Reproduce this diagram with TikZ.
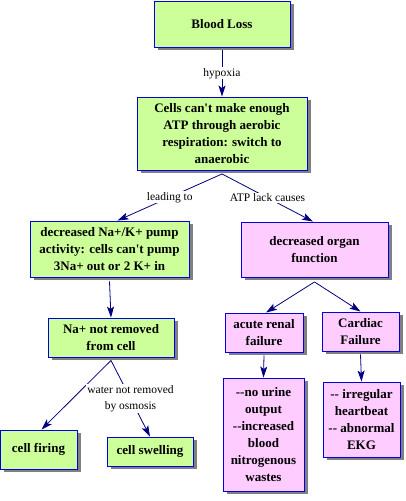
\documentclass[tikz,border=0pt]{standalone}
\usepackage{fontspec}
\setmainfont{Liberation Serif}[Ligatures=TeXOff, BoldFont={Liberation Serif Bold}]
\usetikzlibrary{arrows.meta,shadows}
\definecolor{boxgreen}{HTML}{CCFF99}
\definecolor{boxpink}{HTML}{FFCCFF}
\definecolor{boxline}{HTML}{0000E0}
\definecolor{connline}{HTML}{000080}
\definecolor{shadowgray}{HTML}{808080}
\tikzset{
  cbox/.style={draw=boxline, line width=0.9pt, inner sep=0pt, align=center,
    font=\fontsize{13}{17}\selectfont\bfseries,
    drop shadow={shadow xshift=3.5pt, shadow yshift=-3pt, fill=shadowgray, opacity=1}},
  gbox/.style={cbox, fill=boxgreen},
  pbox/.style={cbox, fill=boxpink},
  conn/.style={draw=connline, line width=0.8pt,
    -{Stealth[length=11pt,width=7pt,inset=2.5pt]}},
  lab/.style={fill=white, inner sep=1pt, align=center,
    font=\fontsize{11.5}{16}\selectfont}
}
\begin{document}
\begin{tikzpicture}[x=1pt,y=-1pt]
\useasboundingbox (0,0) rectangle (406,501);
\node[gbox, minimum width=136pt, minimum height=46pt] (bl) at (222,24) {Blood Loss};
\node[gbox, minimum width=170pt, minimum height=73pt] (cells) at (222,133.5)
  {Cells can't make enough\\ATP through aerobic\\respiration: switch to\\anaerobic};
\node[gbox, minimum width=159pt, minimum height=56pt] (nak) at (109.5,249)
  {decreased Na+/K+ pump\\activity: cells can't pump\\3Na+ out or 2 K+ in};
\node[pbox, minimum width=147pt, minimum height=55pt] (org) at (314.5,249.5)
  {decreased organ\\function};
\node[gbox, minimum width=126pt, minimum height=39pt] (na) at (111,337.5)
  {Na+ not removed\\from cell};
\node[gbox, minimum width=77pt, minimum height=39pt] (fire) at (38.5,449.5) {cell firing};
\node[gbox, minimum width=86pt, minimum height=29pt] (swell) at (150,451.5) {cell swelling};
\node[pbox, minimum width=78pt, minimum height=39pt] (renal) at (264,332.5)
  {acute renal\\failure};
\node[pbox, minimum width=77pt, minimum height=39pt] (card) at (360.5,331.5)
  {Cardiac\\Failure};
\node[pbox, minimum width=81pt, minimum height=113pt] (urine) at (263.5,434.5)
  {--no urine\\output\\--increased\\blood\\nitrogenous\\wastes};
\node[pbox, minimum width=77pt, minimum height=75pt] (irr) at (361.5,419.5)
  {-- irregular\\heartbeat\\-- abnormal\\EKG};

\draw[conn] ([yshift=-2.5pt]bl.south) -- node[lab]{hypoxia} (cells.north);
\draw[conn] ([yshift=-3.5pt]cells.south) -- node[lab]{leading to} ([xshift=8pt]nak.north);
\draw[conn] ([yshift=-3.5pt]cells.south) -- node[lab]{ATP lack causes} ([xshift=-1.5pt]org.north);
\draw[conn] ([yshift=-4pt]nak.south) -- (na.north);
\draw[conn] ([yshift=-4.5pt]org.south) -- ([xshift=2pt]renal.north);
\draw[conn] ([yshift=-4.5pt]org.south) -- (card.north);
\draw[conn] ([yshift=-3pt]na.south) -- ([xshift=3pt]fire.north);
\draw[conn] ([yshift=-3pt]na.south) -- node[lab]{water not removed\\by osmosis} (swell.north);
\draw[conn] ([yshift=-3pt]renal.south) -- (urine.north);
\draw[conn] ([yshift=-3pt]card.south) -- (irr.north);
\end{tikzpicture}
\end{document}
